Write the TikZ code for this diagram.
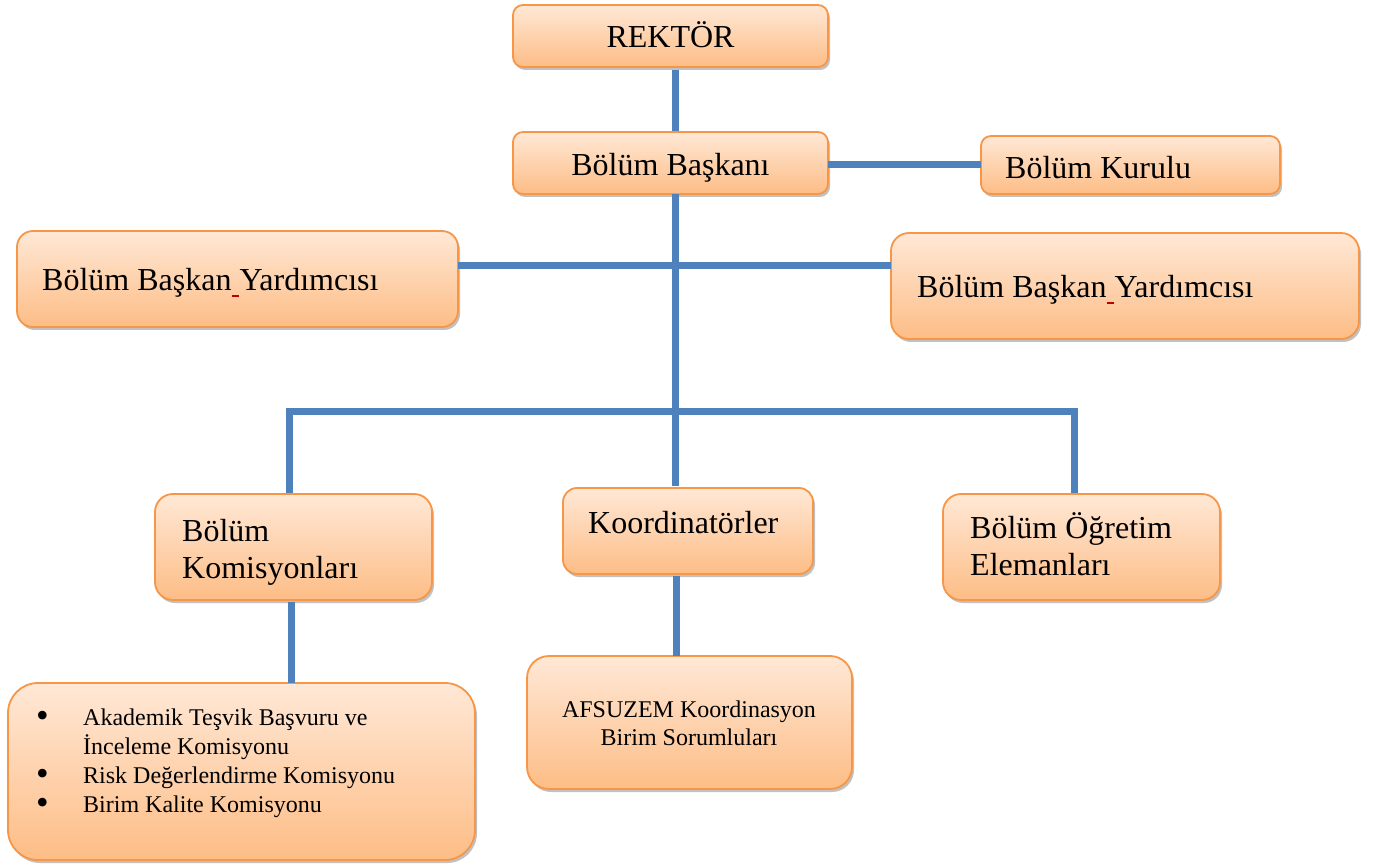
\documentclass[tikz,border=0pt]{standalone}
\usepackage{fontspec}
\setmainfont{Liberation Serif}
\usetikzlibrary{shadows}
\definecolor{boxtop}{HTML}{FFE8D6}
\definecolor{boxbot}{HTML}{FDBD86}
\definecolor{boxline}{HTML}{F79646}
\definecolor{conn}{HTML}{4F81BD}
\definecolor{spellred}{HTML}{C00000}
\newcommand{\redsp}{\makebox[0.25em][l]{\color{spellred}\rule[-6pt]{0.22em}{1.6pt}}}
\newcommand{\bigbul}{\makebox[46pt][l]{\hspace*{-1pt}\smash{\fontsize{36}{29}\selectfont\raisebox{-2pt}{•}}}}
\tikzset{
  orgbox/.style={draw=boxline, line width=1.8pt, shading=axis, top color=boxtop, bottom color=boxbot,
    drop shadow={shadow xshift=2pt, shadow yshift=-3pt, opacity=0.35, fill=black!70},
    inner sep=0pt, outer sep=0pt},
  bigtxt/.style={inner sep=0pt, font=\fontsize{32}{37}\selectfont},
  smalltxt/.style={inner sep=0pt, font=\fontsize{24}{29}\selectfont},
  connector/.style={draw=conn, line width=7pt}
}
\begin{document}
\begin{tikzpicture}[x=1pt,y=-1pt]
\useasboundingbox (0,0) rectangle (1381,866);
% boxes
\node[orgbox, rounded corners=10pt, minimum width=315pt, minimum height=62pt] (rektor) at (670.5,36) {};
\node[orgbox, rounded corners=10pt, minimum width=315pt, minimum height=62pt] (baskan) at (670.5,163) {};
\node[orgbox, rounded corners=10pt, minimum width=299pt, minimum height=58pt] (kurul) at (1130.5,165) {};
\node[orgbox, rounded corners=16pt, minimum width=441pt, minimum height=96pt] (lbby) at (237.5,279) {};
\node[orgbox, rounded corners=18pt, minimum width=468pt, minimum height=106pt] (rbby) at (1125,286) {};
\node[orgbox, rounded corners=18pt, minimum width=277pt, minimum height=106pt] (komis) at (293.5,547) {};
\node[orgbox, rounded corners=14pt, minimum width=250pt, minimum height=86pt] (koord) at (688,531) {};
\node[orgbox, rounded corners=18pt, minimum width=277pt, minimum height=106pt] (ogr) at (1081.5,547) {};
\node[orgbox, rounded corners=30pt, minimum width=467pt, minimum height=177pt] (liste) at (241.5,771.5) {};
\node[orgbox, rounded corners=22pt, minimum width=325pt, minimum height=133pt] (afsu) at (689.5,722.5) {};
% texts
\node[bigtxt, anchor=base] (trektor) at (670.5,48) {REKTÖR};
\node[bigtxt, anchor=base] (tbaskan) at (670.5,176) {Bölüm Başkanı};
\node[bigtxt, anchor=base west] (tkurul) at (1005,179) {Bölüm Kurulu};
\node[bigtxt, anchor=base west] (tlbby) at (42,291) {Bölüm Başkan\redsp Yardımcısı};
\node[bigtxt, anchor=base west] (trbby) at (917,298) {Bölüm Başkan\redsp Yardımcısı};
\node[bigtxt, anchor=base west] (tkomis) at (182,541) {\parbox[t]{240pt}{\fontsize{32}{37}\selectfont Bölüm\\Komisyonları}};
\node[bigtxt, anchor=base west] (tkoord) at (588,533) {Koordinatörler};
\node[bigtxt, anchor=base west] (togr) at (970,538) {\parbox[t]{240pt}{\fontsize{32}{37}\selectfont Bölüm Öğretim\\Elemanları}};
\node[smalltxt, anchor=base] (tafsu) at (689,717) {\parbox[t]{300pt}{\centering\fontsize{24}{28}\selectfont AFSUZEM Koordinasyon\\Birim Sorumluları}};
\node[smalltxt, anchor=base west] (tliste) at (37,725) {\parbox[t]{430pt}{\fontsize{24}{29}\selectfont
\bigbul Akademik Teşvik Başvuru ve\\
\hspace*{46pt}İnceleme Komisyonu\\
\bigbul Risk Değerlendirme Komisyonu\\
\bigbul Birim Kalite Komisyonu}};
% connectors
\coordinate (trunk) at (675,0);
\coordinate (hy) at (0,266);
\coordinate (bus) at (675,411);
\draw[connector] ([yshift=-3pt]trunk |- rektor.south) -- ([yshift=1pt]trunk |- baskan.north);
\draw[connector] (baskan.east |- kurul.west) -- (kurul.west);
\draw[connector] (trunk |- baskan.south) -- ([yshift=2pt]trunk |- koord.north);
\draw[connector] (lbby.east |- hy) -- (rbby.west |- hy);
\draw[connector, line join=miter] ([xshift=-4.5pt,yshift=1pt]komis.north) |- (bus) -| ([xshift=-7.5pt,yshift=1pt]ogr.north);
\coordinate (kx) at ([xshift=-2.5pt]komis.south);
\draw[connector] ([yshift=-2pt]kx) -- (kx |- liste.north);
\coordinate (ax) at (676,0);
\draw[connector] ([yshift=-2pt]ax |- koord.south) -- (ax |- afsu.north);
\end{tikzpicture}
\end{document}
